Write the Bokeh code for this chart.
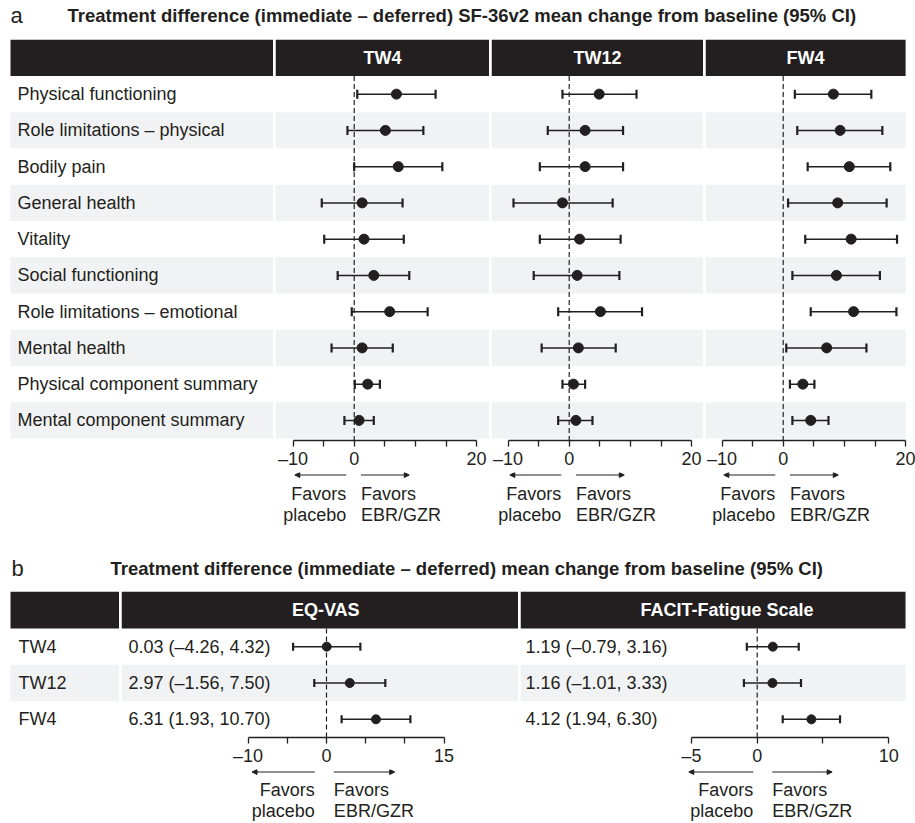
from bokeh.plotting import figure
from bokeh.models import (Range1d, LinearAxis, FixedTicker, Whisker, TeeHead,
                          Arrow, NormalHead, ColumnDataSource, Spacer)
from bokeh.layouts import row, column
from bokeh.core.properties import value
from bokeh.embed import file_html
from bokeh.resources import INLINE

INK = "#231f20"
BAND = "#f1f2f3"
FONT = "Liberation Sans"

# ---- Panel a: SF-36v2 treatment differences (immediate - deferred) ----
sf36_domains = [
    "Physical functioning",
    "Role limitations – physical",
    "Bodily pain",
    "General health",
    "Vitality",
    "Social functioning",
    "Role limitations – emotional",
    "Mental health",
    "Physical component summary",
    "Mental component summary",
]
timepoints_a = ["TW4", "TW12", "FW4"]

tw4_mean = [6.9, 5.1, 7.2, 1.3, 1.6, 3.2, 5.8, 1.3, 2.2, 0.8]
tw4_lo = [0.5, -1.1, 0.0, -5.3, -4.9, -2.7, -0.4, -3.7, 0.1, -1.6]
tw4_hi = [13.3, 11.3, 14.4, 7.9, 8.1, 9.0, 12.0, 6.3, 4.2, 3.2]

tw12_mean = [4.9, 2.6, 2.6, -1.1, 1.7, 1.3, 5.1, 1.5, 0.7, 1.1]
tw12_lo = [-1.1, -3.5, -4.8, -9.1, -4.8, -5.8, -1.8, -4.5, -1.1, -1.8]
tw12_hi = [11.0, 8.8, 8.8, 7.1, 8.4, 8.2, 11.9, 7.6, 2.6, 3.8]

fw4_mean = [8.2, 9.3, 10.8, 8.9, 11.1, 8.7, 11.5, 7.1, 3.2, 4.5]
fw4_lo = [1.9, 2.3, 4.0, 0.8, 3.6, 1.5, 4.5, 0.5, 1.1, 1.5]
fw4_hi = [14.4, 16.2, 17.5, 16.9, 18.6, 15.8, 18.5, 13.6, 5.1, 7.4]

ticks_a = [-10, -5, 0, 5, 10, 15, 20]
tick_labels_a = {-10: "–10", 0: "0", 20: "20"}

# ---- Panel b: EQ-VAS and FACIT-Fatigue ----
timepoints_b = ["TW4", "TW12", "FW4"]
eq_mean = [0.03, 2.97, 6.31]
eq_lo = [-4.26, -1.56, 1.93]
eq_hi = [4.32, 7.50, 10.70]
facit_mean = [1.19, 1.16, 4.12]
facit_lo = [-0.79, -1.01, 1.94]
facit_hi = [3.16, 3.33, 6.30]

ticks_eq = [-10, -5, 0, 5, 10, 15]
tick_labels_eq = {-10: "–10", 0: "0", 15: "15"}
ticks_facit = [-5, 0, 5, 10]
tick_labels_facit = {-5: "–5", 0: "0", 10: "10"}

title_a = "Treatment difference (immediate – deferred) SF-36v2 mean change from baseline (95% CI)"
title_b = "Treatment difference (immediate – deferred) mean change from baseline (95% CI)"

# ---- layout constants (pixels) ----
GAP = 2
A_ROW = 36.25
A_HEAD = 36.5
A_FRAME_H = 401
A_YTOP = -0.5 - A_HEAD / A_ROW
A_YBOT = A_YTOP + A_FRAME_H / A_ROW
B_ROW = 109 / 3
B_HEAD = 37
B_FRAME_H = 146
B_YTOP = -0.5 - B_HEAD / B_ROW
B_YBOT = B_YTOP + B_FRAME_H / B_ROW
AXIS_ROOM = 32


def fmt(v):
    return f"{v:.2f}".replace("-", "–")


def make_fig(fw, fh, x_range, y_range, bottom=0):
    p = figure(frame_width=fw, frame_height=fh, x_range=x_range, y_range=y_range,
               x_axis_location=None, y_axis_location=None, toolbar_location=None,
               output_backend="svg", min_border_left=0, min_border_right=0,
               min_border_top=0, min_border_bottom=bottom,
               outline_line_color=None, background_fill_color="white",
               border_fill_color="white")
    p.grid.visible = False
    return p


def add_text(p, x, y, text, size="18px", color=INK, align="left", bold=False):
    p.text(x=x, y=y, text=text, text_font=value(FONT), text_font_size=size,
           text_color=color, text_align=align, text_baseline="middle",
           text_font_style="bold" if bold else "normal")


def add_axis(p, ticks, labels, bounds):
    overrides = {t: labels.get(t, "") for t in ticks}
    ax = LinearAxis(ticker=FixedTicker(ticks=ticks), bounds=bounds,
                    major_label_overrides=overrides)
    ax.axis_line_color = INK
    ax.axis_line_width = 1.3
    ax.major_tick_line_color = INK
    ax.major_tick_line_width = 1.3
    ax.major_tick_in = 0
    ax.major_tick_out = 6
    ax.minor_tick_line_color = None
    ax.major_label_standoff = 2
    ax.major_label_text_font = FONT
    ax.major_label_text_font_size = "18px"
    ax.major_label_text_color = INK
    p.add_layout(ax, "below")


def forest(p, n_rows, band_left, band_right, ytop, ybot, mean, lo, hi,
           header, header_x, ms, cap):
    ys = list(range(n_rows))
    shaded = [k for k in ys if k % 2 == 1]
    p.quad(left=band_left, right=band_right, top=ytop, bottom=-0.5,
           color=INK, line_color=None)
    p.quad(left=band_left, right=band_right,
           top=[k - 0.5 for k in shaded], bottom=[k + 0.5 for k in shaded],
           color=BAND, line_color=None)
    add_text(p, [header_x], [(ytop - 0.5) / 2], [header], color="white",
             align="center", bold=True)
    p.segment(x0=[0], y0=[-0.5], x1=[0], y1=[ybot], line_color=INK,
              line_width=1.2, line_dash="5 3")
    src = ColumnDataSource(dict(y=ys, m=mean, lo=lo, hi=hi))
    p.scatter(x="m", y="y", source=src, size=ms, color=INK, line_color=INK)
    p.add_layout(Whisker(source=src, base="y", lower="lo", upper="hi",
                         dimension="width", line_color=INK, line_width=1.5,
                         level="annotation",
                         lower_head=TeeHead(size=cap, line_color=INK, line_width=2.2),
                         upper_head=TeeHead(size=cap, line_color=INK, line_width=2.2)))


def favors(p, left_end, left_start, right_start, right_end, y_arrow, y1, y2):
    head = dict(size=5, fill_color=INK, line_color=INK)
    p.add_layout(Arrow(x_start=left_start, y_start=y_arrow, x_end=left_end, y_end=y_arrow,
                       line_color=INK, line_width=1, end=NormalHead(**head)))
    p.add_layout(Arrow(x_start=right_start, y_start=y_arrow, x_end=right_end, y_end=y_arrow,
                       line_color=INK, line_width=1, end=NormalHead(**head)))
    add_text(p, [left_start, left_start], [y1, y2], ["Favors", "placebo"], align="right")
    add_text(p, [right_start, right_start], [y1, y2], ["Favors", "EBR/GZR"], align="left")


# ---------------- panel a ----------------
W_LAB_A = 273
title_fig_a = make_fig(915, 39, Range1d(0, 915), Range1d(39, 0))
add_text(title_fig_a, [10], [15], ["a"], size="22px")
add_text(title_fig_a, [67], [15], [title_a], size="18.5px", bold=True)

lab_a = make_fig(W_LAB_A, A_FRAME_H, Range1d(0, W_LAB_A), Range1d(A_YBOT, A_YTOP),
                 bottom=AXIS_ROOM)
rows_a = list(range(len(sf36_domains)))
lab_a.quad(left=10, right=W_LAB_A, top=A_YTOP, bottom=-0.5, color=INK, line_color=None)
lab_a.quad(left=10, right=W_LAB_A, top=[k - 0.5 for k in rows_a if k % 2],
           bottom=[k + 0.5 for k in rows_a if k % 2], color=BAND, line_color=None)
add_text(lab_a, [17] * len(rows_a), rows_a, sf36_domains)

SCALE_A = 6.12
# (frame width, pixel offset of x = 0 inside the frame, right end of the bands)
cols_a = [
    (214, 78.7, tw4_mean, tw4_lo, tw4_hi, None),
    (212, 77.7, tw12_mean, tw12_lo, tw12_hi, None),
    (210, 77.7, fw4_mean, fw4_lo, fw4_hi, 20),
]
FAV_A_H = 58
figs_a, favs_a = [], []
for name, (fw, zero_px, m, lo, hi, band_end) in zip(timepoints_a, cols_a):
    x0 = -zero_px / SCALE_A
    x1 = (fw - zero_px) / SCALE_A
    xr = Range1d(x0, x1)
    p = make_fig(fw, A_FRAME_H, xr, Range1d(A_YBOT, A_YTOP), bottom=AXIS_ROOM)
    right = band_end if band_end is not None else x1
    forest(p, len(sf36_domains), x0, right, A_YTOP, A_YBOT, m, lo, hi,
           name, (x0 + right) / 2, 10, 9)
    add_axis(p, ticks_a, tick_labels_a, (-10, 20))
    figs_a.append(p)

    f = make_fig(fw, FAV_A_H, xr, Range1d(FAV_A_H, 0))
    favors(f, -9.7, -1.3, 1.1, 9.0, 2.5, 21, 42)
    favs_a.append(f)

# ---------------- panel b ----------------
W_LAB_B = 119
title_fig_b = make_fig(915, 61, Range1d(0, 915), Range1d(61, 0))
add_text(title_fig_b, [11], [38], ["b"], size="22px")
add_text(title_fig_b, [110], [38], [title_b], size="18.5px", bold=True)

lab_b = make_fig(W_LAB_B, B_FRAME_H, Range1d(0, W_LAB_B), Range1d(B_YBOT, B_YTOP),
                 bottom=AXIS_ROOM)
rows_b = list(range(len(timepoints_b)))
lab_b.quad(left=10, right=W_LAB_B, top=B_YTOP, bottom=-0.5, color=INK, line_color=None)
lab_b.quad(left=10, right=W_LAB_B, top=[k - 0.5 for k in rows_b if k % 2],
           bottom=[k + 0.5 for k in rows_b if k % 2], color=BAND, line_color=None)
add_text(lab_b, [18] * len(rows_b), rows_b, timepoints_b)

measures_b = [
    # name, frame width, px of zero, px per unit, band end, header x, text px
    ("EQ-VAS", 397, 205.0, 7.84, None, -0.1, 7, eq_mean, eq_lo, eq_hi,
     ticks_eq, tick_labels_eq, (-10, 15), (-9.5, -1.5, 0.94, 8.7)),
    ("FACIT-Fatigue Scale", 395, 236.7, 13.15, 11.28, -2.3, 5, facit_mean, facit_lo,
     facit_hi, ticks_facit, tick_labels_facit, (-5, 10), (-5.2, -0.3, 1.14, 5.7)),
]
FAV_B_H = 54
figs_b, favs_b = [], []
for (name, fw, zero_px, scale, band_end, hx, text_px, m, lo, hi, ticks, tl, bnd,
     arr) in measures_b:
    x0 = -zero_px / scale
    x1 = (fw - zero_px) / scale
    xr = Range1d(x0, x1)
    p = make_fig(fw, B_FRAME_H, xr, Range1d(B_YBOT, B_YTOP), bottom=AXIS_ROOM)
    right = band_end if band_end is not None else x1
    forest(p, len(timepoints_b), x0, right, B_YTOP, B_YBOT, m, lo, hi, name, hx, 9, 8)
    labels = [f"{fmt(a)} ({fmt(b)}, {fmt(c)})" for a, b, c in zip(m, lo, hi)]
    add_text(p, [x0 + text_px / scale] * len(labels), rows_b, labels)
    add_axis(p, ticks, tl, bnd)
    figs_b.append(p)

    f = make_fig(fw, FAV_B_H, xr, Range1d(FAV_B_H, 0))
    favors(f, arr[0], arr[1], arr[2], arr[3], 2.5, 20, 41)
    favs_b.append(f)

layout = column(
    title_fig_a,
    row(lab_a, *figs_a, spacing=GAP),
    row(Spacer(width=W_LAB_A, height=FAV_A_H), *favs_a, spacing=GAP),
    title_fig_b,
    row(lab_b, *figs_b, spacing=GAP),
    row(Spacer(width=W_LAB_B, height=FAV_B_H), *favs_b, spacing=GAP),
    spacing=0,
)

open("out.html", "w").write(file_html(layout, INLINE))
